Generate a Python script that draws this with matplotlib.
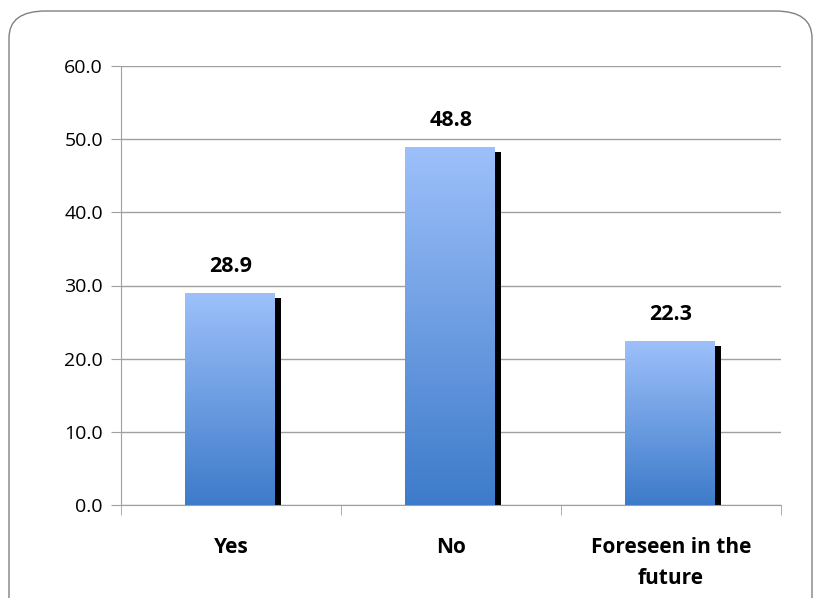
import matplotlib.pyplot as plt
import numpy as np
from matplotlib.patches import FancyBboxPatch
from matplotlib.colors import LinearSegmentedColormap

categories = ['Yes', 'No', 'Foreseen in the\nfuture']
values = [28.9, 48.8, 22.3]
yticks = [0, 10, 20, 30, 40, 50, 60]

plt.rcParams['font.family'] = ['Open Sans', 'DejaVu Sans']

fig = plt.figure(figsize=(8.16, 5.98), dpi=100)
W, H = 816, 598

# rounded chart border (cut at right/bottom like the original)
border = FancyBboxPatch((9 / W, -0.05), (803 / W), 1 - 11 / H + 0.05,
                        boxstyle='round,pad=0,rounding_size=0.045',
                        transform=fig.transFigure, fill=False,
                        edgecolor='#808080', linewidth=1.0)
fig.patches.append(border)

ax = fig.add_axes([121 / W, 1 - 505 / H, 660 / W, 439 / H])
ax.set_xlim(-0.5, 2.5)
ax.set_ylim(0, 60)

grad = LinearSegmentedColormap.from_list('g', ['#3d7bca', '#9dc0fa'])
img = np.linspace(0, 1, 256).reshape(-1, 1)
bw = 0.405
for i, v in enumerate(values):
    x0 = i - bw / 2 - 0.005
    # shadow
    ax.bar(x0 + bw + 0.014, v - 0.6, width=0.028, bottom=0, color='black',
           align='center', zorder=2)
    ax.imshow(img, cmap=grad, origin='lower', aspect='auto',
              extent=(x0, x0 + bw, 0, v), zorder=3)
    ax.text(i, v + 3.7, f'{v:.1f}', ha='center', va='center',
            fontsize=15.5, fontweight='bold')

ax.set_xlim(-0.5, 2.5)
ax.set_ylim(0, 60)
ax.set_yticks(yticks)
ax.set_yticklabels([f'{t:.1f}' for t in yticks], fontsize=14)
ax.yaxis.grid(True, color='#a0a0a0', linewidth=1)
ax.set_axisbelow(True)

ax.set_xticks([0, 1, 2])
ax.set_xticklabels(categories, fontsize=15, fontweight='bold', linespacing=1.6)
ax.set_xticks([-0.5, 0.5, 1.5, 2.5], minor=True)
ax.tick_params(axis='x', which='major', length=0, pad=23)
ax.tick_params(axis='x', which='minor', length=7, color='#a0a0a0', direction='out')
ax.tick_params(axis='y', length=7, color='#a0a0a0', direction='out', pad=6)
for s in ['top', 'right']:
    ax.spines[s].set_visible(False)
for s in ['left', 'bottom']:
    ax.spines[s].set_color('#a0a0a0')

fig.savefig('out.png', dpi=100)
